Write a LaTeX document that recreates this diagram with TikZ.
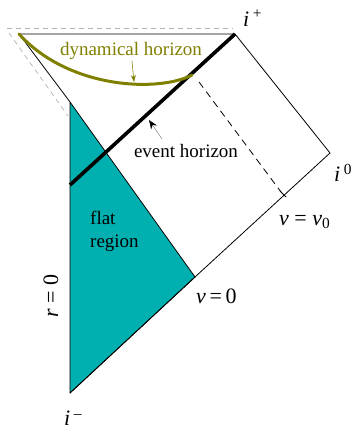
\documentclass[tikz,border=0pt]{standalone}
\usepackage{fontspec}
\setmainfont{Liberation Serif}
\usepackage{tikz}
\usetikzlibrary{arrows.meta, positioning, calc}

\definecolor{flatteal}{RGB}{0,176,176}
\definecolor{dhcolor}{RGB}{128,128,0}

\newcommand{\itx}[1]{\textit{#1}}

\begin{document}
\begin{tikzpicture}[x=1pt, y=-1pt, line join=round,
    thinline/.style={draw=black, line width=0.8pt},
    guide/.style={draw=gray!60, dashed, line width=0.7pt, dash pattern=on 5pt off 4pt},
    lbl/.style={font=\fontsize{19}{21}\selectfont, inner sep=1pt},
    mlbl/.style={font=\fontsize{22}{24}\selectfont, inner sep=1pt}]
        \useasboundingbox (0,0) rectangle (361,435);
        % Corners of the diagram
        \coordinate (iminus) at (70,393);
        \coordinate (rtop) at (70,102);
        \coordinate (tleft) at (19,34);
        \coordinate (iplus) at (235,34);
        \coordinate (izero) at (330,153);
        \coordinate (vzero) at (195,277);
        \coordinate (ehend) at (70,185);
        \coordinate (dhend) at (192,75);
        \coordinate (dashtop) at (199,82);
        \coordinate (dashbot) at (281,192);
        \coordinate (tick) at (283,194);
        \coordinate (gtl) at (7,28);
        \coordinate (gtr) at (233,28);
        \coordinate (gsl) at (9,33);
        \coordinate (gsb) at (68,116);

        % Flat region
        \filldraw[fill=flatteal, thinline] (rtop) -- (vzero) -- (iminus) -- cycle;

        % Gray guides
        \draw[guide] (gtl) -- (gtr);
        \draw[guide] (gsl) -- (gsb);

        % Boundary
        \draw[thinline] (iminus) -- (vzero) -- (izero) -- (iplus) -- (tleft) -- (rtop);
        \draw[dashed, line width=0.8pt, dash pattern=on 7pt off 5pt] (dashtop) -- (dashbot);
        \draw[line width=0.9pt] ($(tick)+(-3,-3)$) -- ($(tick)+(3,3)$);

        % Horizons
        \draw[line width=3.6pt] (iplus) -- (ehend);
        \draw[dhcolor, line width=3pt, line cap=round] (tleft) .. controls (70,90) and (160,92) .. (dhend);

        % Labels
        \node (iplus-lbl) [mlbl, anchor=west] at (242,18) {\itx{i}\,\textsuperscript{+}};
        \node (izero-lbl) [mlbl, anchor=west] at (333,173) {\itx{i}\,\textsuperscript{0}};
        \node (iminus-lbl) [mlbl, anchor=west] at (63,418) {\itx{i}\,\textsuperscript{\raisebox{-1pt}{--}}};
        \node (vvzero) [mlbl, anchor=west] at (278,222) {\itx{v} = \itx{v}\textsubscript{0}};
        \node (vnull) [mlbl, anchor=west] at (195,296) {\itx{v}\,=\,0};
        \node (rnull) [mlbl, rotate=90] at (51,296) {\itx{r} = 0};
        \node (flat) [lbl, align=left, anchor=north west] at (89,210) {flat\\[2pt]region};
        \node (dh) [lbl, text=dhcolor] at (131,51) {dynamical horizon};
        \node (eh) [lbl] at (186,151) {event horizon};

        % Pointers
        \coordinate (dhtip) at (134,82);
        \coordinate (ehtip) at (149,120);
        \coordinate (ehtail) at (162,139);
        \draw[dhcolor, line width=0.6pt, -{Stealth[length=7pt, width=5pt]}] (dh) -- (dhtip);
        \draw[gray, line width=0.5pt, -{Stealth[length=9pt, width=7pt, color=black, fill=black]}] (ehtail) -- (ehtip);
\end{tikzpicture}
\end{document}
